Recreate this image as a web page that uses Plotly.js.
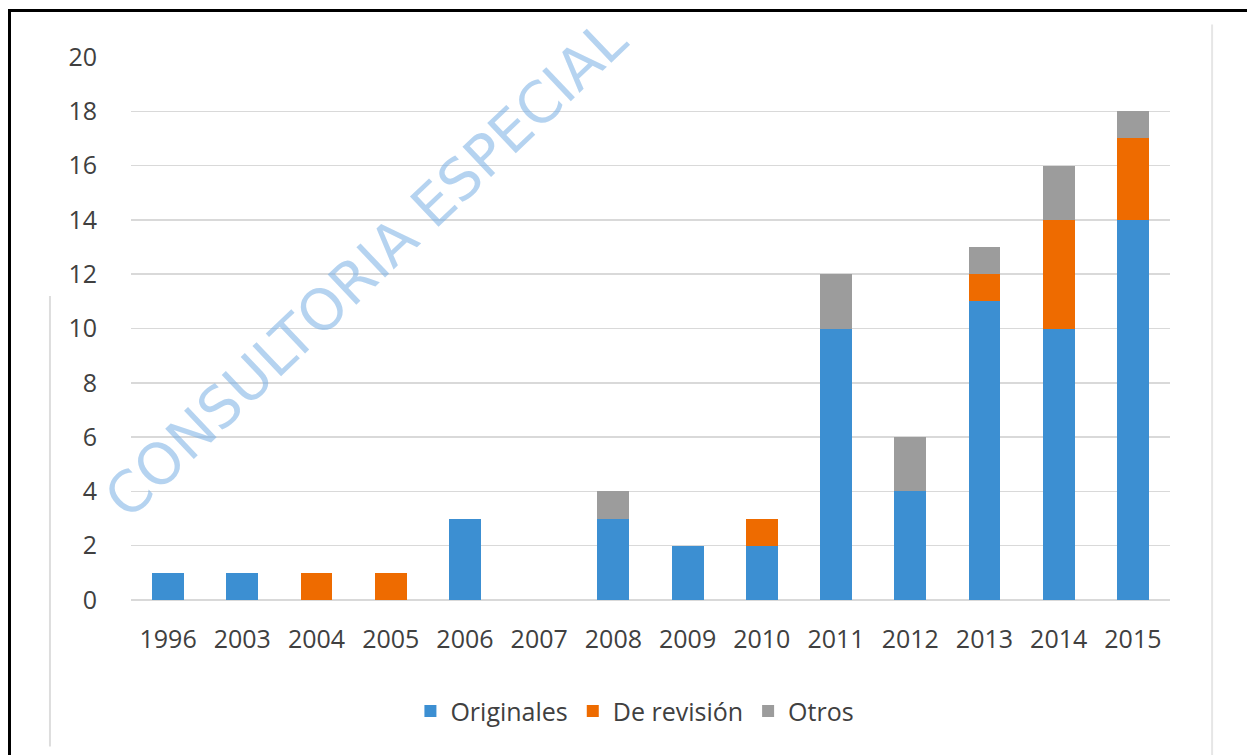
<!DOCTYPE html>
<html>
<head>
<meta charset="utf-8">
<script src="https://cdn.plot.ly/plotly-3.0.1.min.js"></script>
<style>
  html, body { margin: 0; padding: 0; background: #fff; }
  #wrap { position: relative; width: 1247px; height: 755px; overflow: hidden; }
  #chart { width: 1247px; height: 755px; }
  #frame { position: absolute; left: 8px; top: 9px; width: 1300px; height: 800px;
           border-top: 3px solid #000; border-left: 3px solid #000; pointer-events: none; }
</style>
</head>
<body>
<div id="wrap">
  <div id="chart"></div>
  <div id="frame"></div>
</div>
<script>
const years = ['1996','2003','2004','2005','2006','2007','2008','2009','2010','2011','2012','2013','2014','2015'];
const originales = [1, 1, 0, 0, 3, 0, 3, 2, 2, 10, 4, 11, 10, 14];
const deRevision = [0, 0, 1, 1, 0, 0, 0, 0, 1, 0, 0, 1, 4, 3];
const otros      = [0, 0, 0, 0, 0, 0, 1, 0, 0, 2, 2, 1, 2, 1];
const seriesNames = ['Originales', 'De revisión', 'Otros'];
const yTicks = [0, 2, 4, 6, 8, 10, 12, 14, 16, 18, 20];

const colors = ['#3C8FD2', '#EE6B00', '#9C9C9C'];
const fam = '"Open Sans", "Liberation Sans", sans-serif';
const font = {family: fam, size: 25, color: '#404040'};

const data = [originales, deRevision, otros].map((vals, i) => ({
  type: 'bar',
  name: seriesNames[i],
  x: years,
  y: vals,
  marker: {color: colors[i], line: {width: 0}},
  hoverinfo: 'x+y+name'
}));

const layout = {
  width: 1247, height: 755,
  paper_bgcolor: 'rgba(0,0,0,0)',
  plot_bgcolor: 'rgba(0,0,0,0)',
  margin: {l: 131, r: 77, t: 57, b: 155},
  barmode: 'stack',
  bargap: 0.57,
  font: font,
  showlegend: true,
  legend: {
    orientation: 'h', traceorder: 'normal',
    x: 0.485, xanchor: 'center', y: -0.205, yanchor: 'middle',
    font: font, itemwidth: 30, tracegroupgap: 0
  },
  xaxis: {
    type: 'category', tickvals: years, ticktext: years,
    showgrid: false, showline: false, zeroline: false,
    ticks: 'outside', ticklen: 17, tickcolor: 'rgba(0,0,0,0)',
    tickfont: font
  },
  yaxis: {
    range: [0, 20], tickvals: yTicks, ticktext: yTicks.map(String),
    showgrid: true, gridcolor: '#D9D9D9', gridwidth: 1.5,
    zeroline: true, zerolinecolor: '#D9D9D9', zerolinewidth: 1.5,
    showline: false,
    ticks: 'outside', ticklen: 28, tickcolor: 'rgba(0,0,0,0)',
    tickfont: font
  },
  shapes: [
    {type: 'line', xref: 'paper', yref: 'paper', x0: -0.078, x1: -0.078, y0: 0.56, y1: -0.27,
     line: {color: '#DDDDDD', width: 2}},
    {type: 'line', xref: 'paper', yref: 'paper', x0: 1.0405, x1: 1.0405, y0: 1.06, y1: -0.3,
     line: {color: '#E6E6E6', width: 2}}
  ],
  annotations: [{
    xref: 'paper', yref: 'paper', x: 0.226, y: 0.612,
    xanchor: 'center', yanchor: 'middle',
    text: 'CONSULTORIA ESPECIAL',
    showarrow: false, textangle: -43.5,
    font: {family: '"DejaVu Sans", sans-serif', size: 57, color: 'rgba(120,175,228,0.55)'}
  }]
};

Plotly.newPlot('chart', data, layout, {displayModeBar: false, staticPlot: true});
</script>
</body>
</html>
